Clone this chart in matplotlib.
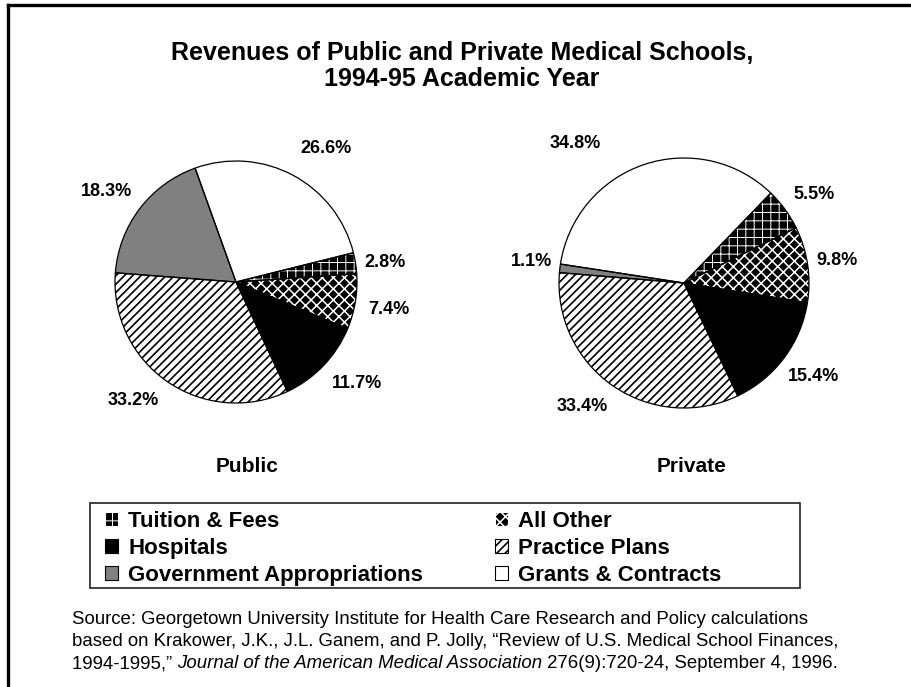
import matplotlib
matplotlib.use("Agg")
import matplotlib.pyplot as plt
from matplotlib.patches import Patch, Rectangle
from matplotlib.lines import Line2D
import numpy as np

plt.rcParams['font.family'] = ['Liberation Sans', 'DejaVu Sans']

# Revenue shares (%) by source
categories = ["Tuition & Fees", "All Other", "Hospitals", "Practice Plans",
              "Government Appropriations", "Grants & Contracts"]
public_share = [2.8, 7.4, 11.7, 33.2, 18.3, 26.6]
private_share = [5.5, 9.8, 15.4, 33.4, 1.1, 34.8]
school_types = ["Public", "Private"]

title = "Revenues of Public and Private Medical Schools,\n1994-95 Academic Year"

# Fill styles per category: (face, hatch colour, hatch, hatch line width)
styles = {
    "Tuition & Fees": ("black", "white", "++", 0.7),
    "All Other": ("black", "white", "xxx", 1.1),
    "Hospitals": ("black", "black", None, 1.0),
    "Practice Plans": ("white", "black", "////", 1.2),
    "Government Appropriations": ("#808080", "#808080", None, 1.0),
    "Grants & Contracts": ("white", "white", None, 1.0),
}

W, H = 911, 687
fig = plt.figure(figsize=(W / 100, H / 100), dpi=100)
fig.patch.set_facecolor("white")


def set_hatch_width(p, w):
    if hasattr(p, "set_hatch_linewidth"):
        p.set_hatch_linewidth(w)
    else:
        p._hatch_linewidth = w


def style_patch(p, cat):
    face, hcol, hatch, hw = styles[cat]
    p.set_facecolor(face)
    p.set_edgecolor(hcol)
    p.set_linewidth(0)
    if hatch:
        p.set_hatch(hatch)
        set_hatch_width(p, hw)


def pie_axes(cx, cy, r):
    ax = fig.add_axes([(cx - r) / W, (H - cy - r) / H, 2 * r / W, 2 * r / H])
    ax.set_xlim(-1, 1)
    ax.set_ylim(-1, 1)
    ax.set_aspect("equal")
    ax.axis("off")
    return ax


# pie placement (px) and label layout: (angle nudge in degrees, radius factor)
pies = [
    dict(values=public_share, cx=236, cy=282, r=121, start=14,
         lab=[(-1.4, 1.24), (-0.8, 1.28), (3.8, 1.30), (-6.4, 1.30), (2.3, 1.31), (-5.9, 1.33)],
         name_x=247),
    dict(values=private_share, cx=684, cy=283, r=125, start=46,
         lab=[(-1.7, 1.26), (-0.3, 1.24), (0.9, 1.28), (-4.8, 1.28), (-1.2, 1.23), (19.3, 1.42)],
         name_x=692),
]

for spec, name in zip(pies, school_types):
    ax = pie_axes(spec["cx"], spec["cy"], spec["r"])
    wedges, _ = ax.pie(spec["values"], startangle=spec["start"], counterclock=False,
                       frame=False)
    for w, cat in zip(wedges, categories):
        style_patch(w, cat)
    # slice outlines
    ax.pie(spec["values"], startangle=spec["start"], counterclock=False, frame=False,
           wedgeprops=dict(fill=False, edgecolor="black", linewidth=0.9))
    ax.set_xlim(-1, 1)
    ax.set_ylim(-1, 1)
    for w, v, (dang, rf) in zip(wedges, spec["values"], spec["lab"]):
        mid = np.deg2rad((w.theta1 + w.theta2) / 2 + dang)
        ax.text(rf * np.cos(mid), rf * np.sin(mid), f"{v:.1f}%",
                ha="center", va="center", fontsize=13, fontweight="bold",
                clip_on=False)
    fig.text(spec["name_x"] / W, 1 - 467 / H, name, ha="center", va="center",
             fontsize=15, fontweight="bold")

fig.text(462 / W, 1 - 66 / H, title, ha="center", va="center", fontsize=18,
         fontweight="bold", linespacing=1.08)

# legend: two columns, boxed
order = [0, 2, 4, 1, 3, 5]
handles = [Patch(facecolor="white", edgecolor="black", linewidth=0.8,
                 label=categories[i]) for i in order]
leg = fig.legend(handles=handles, ncol=2, loc="upper left",
                 bbox_to_anchor=(105 / W, 1 - 511 / H),
                 frameon=False, prop=dict(size=16, weight="bold"),
                 handlelength=0.59, handleheight=0.59, handletextpad=0.45,
                 columnspacing=3.25, labelspacing=0.26, borderpad=0,
                 borderaxespad=0)
for h, i in zip(leg.legend_handles, order):
    face, hcol, hatch, hw = styles[categories[i]]
    h.set_facecolor(face)
    if hatch:
        h.set_hatch(hatch)
        h.set_edgecolor(hcol)
        set_hatch_width(h, hw)
fig.add_artist(Rectangle((90 / W, 1 - 588 / H), 710 / W, 85 / H,
                         transform=fig.transFigure, fill=False,
                         edgecolor="#222222", linewidth=1.2))

# frame lines along top and left
fig.add_artist(Line2D([8 / W, 1], [1 - 5 / H, 1 - 5 / H], color="black", lw=2.4))
fig.add_artist(Line2D([8 / W, 8 / W], [0, 1 - 5 / H], color="black", lw=2.4))

# source note
bg = fig.add_axes([0, 0, 1, 1])
bg.axis("off")
src_lines = [
    "Source: Georgetown University Institute for Health Care Research and Policy calculations",
    "based on Krakower, J.K., J.L. Ganem, and P. Jolly, \u201cReview of U.S. Medical School Finances,",
]
fs = 13.4
ys = [619, 642, 664]
for s, y in zip(src_lines, ys):
    fig.text(72 / W, 1 - y / H, s, ha="left", va="center", fontsize=fs)
t1 = fig.text(72 / W, 1 - ys[2] / H, "1994-1995,\u201d ", ha="left", va="center", fontsize=fs)
t2 = bg.annotate("Journal of the American Medical Association", xy=(1, 0), xycoords=t1,
                 ha="left", va="bottom", fontsize=fs, style="italic")
bg.annotate(" 276(9):720-24, September 4, 1996.", xy=(1, 0), xycoords=t2,
            ha="left", va="bottom", fontsize=fs)

fig.savefig("out.png", dpi=100, facecolor="white")
